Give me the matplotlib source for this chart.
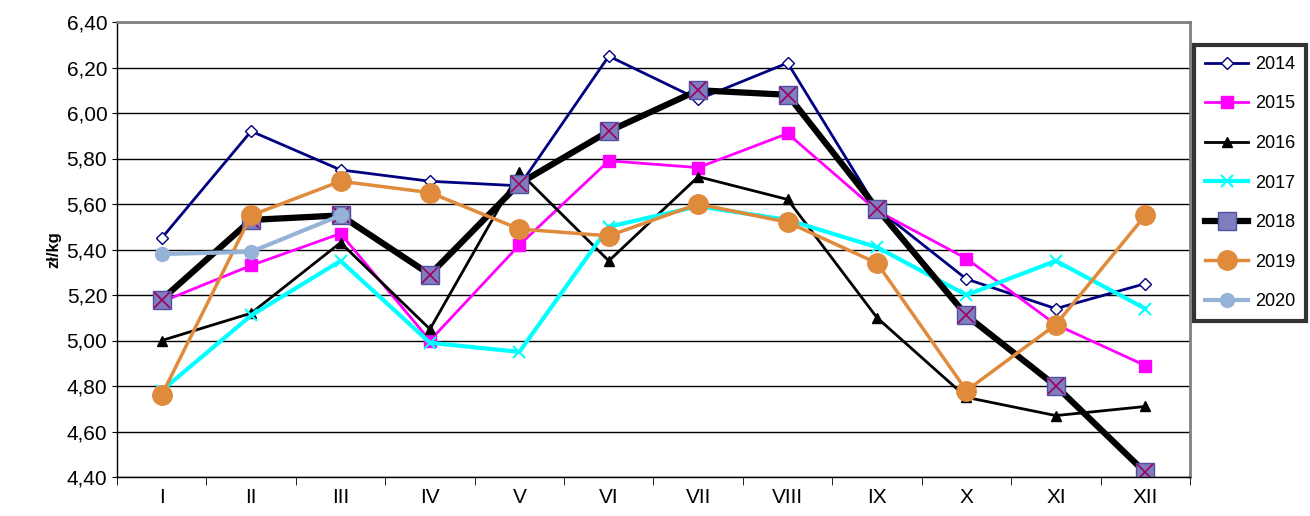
import matplotlib.pyplot as plt
import numpy as np

months = ["I", "II", "III", "IV", "V", "VI", "VII", "VIII", "IX", "X", "XI", "XII"]
y2014 = [5.45, 5.92, 5.75, 5.70, 5.68, 6.25, 6.06, 6.22, 5.58, 5.27, 5.14, 5.25]
y2015 = [5.17, 5.33, 5.47, 5.00, 5.42, 5.79, 5.76, 5.91, 5.57, 5.36, 5.07, 4.89]
y2016 = [5.00, 5.12, 5.43, 5.05, 5.74, 5.35, 5.72, 5.62, 5.10, 4.75, 4.67, 4.71]
y2017 = [4.78, 5.11, 5.35, 4.99, 4.95, 5.50, 5.59, 5.53, 5.41, 5.20, 5.35, 5.14]
y2018 = [5.18, 5.53, 5.55, 5.29, 5.69, 5.92, 6.10, 6.08, 5.58, 5.11, 4.80, 4.42]
y2019 = [4.76, 5.55, 5.70, 5.65, 5.49, 5.46, 5.60, 5.52, 5.34, 4.78, 5.07, 5.55]
y2020 = [5.38, 5.39, 5.55]

plt.rcParams["font.family"] = ["Liberation Sans", "DejaVu Sans"]
fig = plt.figure(figsize=(13.1, 5.16), dpi=100)
ax = fig.add_axes([117 / 1310, 1 - 477 / 516, (1190 - 117) / 1310, (477 - 22) / 516])

x = np.arange(1, 13)
ax.plot(x, y2014, color="#000080", lw=2, marker="D", ms=6, mfc="white", mec="#000080", label="2014")
ax.plot(x, y2015, color="#ff00ff", lw=2, marker="s", ms=8, label="2015")
ax.plot(x, y2016, color="black", lw=2, marker="^", ms=7, label="2016")
ax.plot(x, y2017, color="#00ffff", lw=3, marker="x", ms=9, mew=1.5, label="2017")
ax.plot(x, y2018, color="black", lw=4.5, marker="s", ms=13, mfc="#7f7fbf", mec="#5050a0", label="2018")
ax.plot(x, y2018, ls="none", marker="x", ms=11, mec="#a00060", mew=1.2)
ax.plot(x, y2019, color="#e08a3c", lw=2.5, marker="o", ms=14, label="2019")
ax.plot(x[:3], y2020, color="#95b3d7", lw=3, marker="o", ms=10, label="2020")

ax.set_xlim(0.5, 12.5)
ax.set_ylim(4.4, 6.4)
ax.set_yticks(np.arange(4.4, 6.41, 0.2))
ax.set_yticklabels([f"{v:.2f}".replace(".", ",") for v in np.arange(4.4, 6.41, 0.2)], fontsize=15)
ax.set_xticks(x)
ax.set_xticklabels(months, fontsize=15)
ax.set_xticks(np.arange(0.5, 12.6, 1), minor=True)
ax.tick_params(axis="x", which="major", length=0, pad=8)
ax.tick_params(axis="x", which="minor", length=6)
ax.grid(axis="y", color="black", lw=1)
for s in ax.spines.values():
    s.set_color("#808080")
    s.set_linewidth(2)
ax.spines["left"].set_color("black")
ax.spines["left"].set_linewidth(1)
ax.spines["bottom"].set_color("black")
ax.spines["bottom"].set_linewidth(1)
ax.set_ylabel("zł/kg", fontsize=12, fontweight="bold")

leg = fig.legend(loc="upper left", bbox_to_anchor=(1194 / 1310, 1 - 45 / 516), fontsize=13,
                 frameon=True, fancybox=False, edgecolor="black", labelspacing=1.25,
                 handlelength=2.4, handletextpad=0.4, borderpad=0.6, borderaxespad=0)
leg.get_frame().set_linewidth(3)

fig.savefig("out.png", dpi=100)
